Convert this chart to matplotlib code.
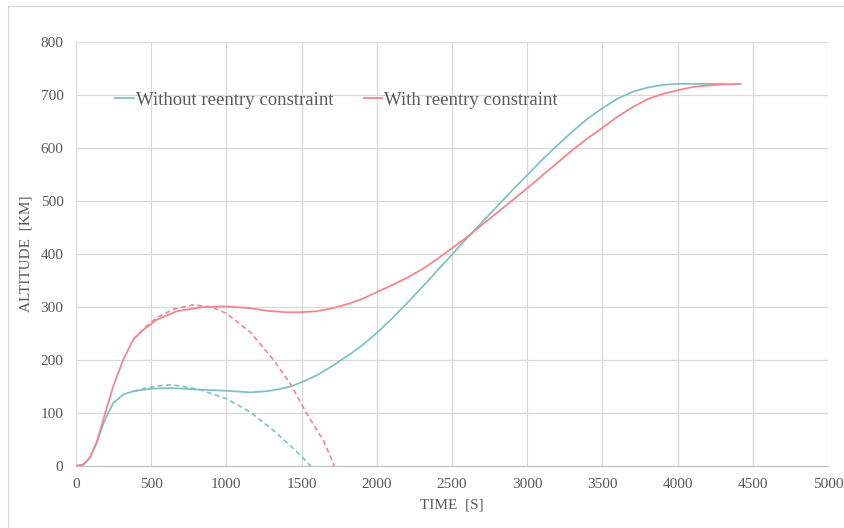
import matplotlib.pyplot as plt
from matplotlib.patches import Rectangle

# DATA

# without reentry constraint, solid
t_without = [0, 50, 93, 137, 182, 204, 248, 315, 381, 450, 514, 625, 700, 824, 1000, 1157,
             1268, 1350, 1423, 1500, 1600, 1700, 1822, 1900, 2000, 2100, 2200, 2300, 2400,
             2500, 2600, 2700, 2800, 2900, 3000, 3100, 3200, 3300, 3400, 3500, 3600, 3700,
             3800, 3900, 4000, 4100, 4200, 4315]
alt_without = [0, 3, 16, 44, 80, 94, 119, 135, 141, 144, 146, 147, 146, 144, 142, 139,
               141, 145, 150, 158, 171, 188, 211, 227, 251, 278, 307, 337, 368,
               399, 430, 460, 490, 520, 549, 578, 605, 631, 655, 675, 693, 706,
               714, 719, 721, 721, 721, 721]

# with reentry constraint, solid
t_with = [0, 50, 93, 137, 182, 248, 315, 381, 448, 537, 670, 847, 1000, 1150, 1268, 1400,
          1490, 1600, 1711, 1822, 1900, 2000, 2100, 2200, 2300, 2400, 2500, 2600, 2700,
          2800, 2900, 3000, 3100, 3200, 3300, 3400, 3500, 3600, 3700, 3800, 3900, 4000,
          4100, 4200, 4300, 4420]
alt_with = [0, 3, 16, 44, 88, 151, 201, 239, 257, 276, 292, 300, 301, 298, 293, 290,
            290, 292, 298, 307, 315, 328, 341, 355, 371, 390, 411, 432, 455,
            478, 501, 524, 548, 572, 596, 618, 638, 659, 677, 692, 702, 709,
            715, 718, 720, 721]

# ballistic fall after the coast, dashed
t_fall_without = [381, 450, 540, 625, 700, 824, 1000, 1157, 1314, 1445, 1500, 1560]
alt_fall_without = [141, 146, 151, 153, 151, 144, 127, 102, 67, 33, 18, 0]

t_fall_with = [381, 448, 537, 650, 780, 900, 1000, 1157, 1314, 1423, 1534, 1645, 1711, 1716]
alt_fall_with = [239, 259, 280, 296, 304, 300, 288, 253, 200, 156, 99, 48, 5, 0]

x_ticks = [0, 500, 1000, 1500, 2000, 2500, 3000, 3500, 4000, 4500, 5000]
y_ticks = [0, 100, 200, 300, 400, 500, 600, 700, 800]

TEAL = "#7fc3c1"
RED = "#f2878d"
GREY = "#595959"

# PLOT

plt.rcParams["font.family"] = ["Liberation Serif", "DejaVu Serif"]

fig = plt.figure(figsize=(8.45, 5.28), dpi=100)
ax = fig.add_axes([76 / 845, 62 / 528, 752 / 845, 424 / 528])

# chart area border
fig.patches.append(Rectangle((8.5 / 845, -0.1), 1.2, (528 - 5.5) / 528 + 0.1,
                             transform=fig.transFigure, fill=False,
                             edgecolor="#d9d9d9", linewidth=1.0))

ax.plot(t_without, alt_without, color=TEAL, lw=1.3, label="Without reentry constraint")
ax.plot(t_with, alt_with, color=RED, lw=1.3, label="With reentry constraint")
ax.plot(t_fall_without, alt_fall_without, color=TEAL, lw=1.2, linestyle=(0, (3, 2)))
ax.plot(t_fall_with, alt_fall_with, color=RED, lw=1.2, linestyle=(0, (3, 2)))

ax.set_xlim(0, 5000)
ax.set_ylim(0, 800)
ax.set_xticks(x_ticks)
ax.set_yticks(y_ticks)
ax.grid(True, color="#d9d9d9", linewidth=0.9)
ax.set_axisbelow(True)
ax.tick_params(length=0, labelsize=11, labelcolor=GREY, pad=9)
for side in ["top", "right", "left"]:
    ax.spines[side].set_visible(False)
ax.spines["bottom"].set_color("#bfbfbf")

ax.set_xlabel("TIME  [S]", fontsize=11, color=GREY, labelpad=5)
ax.set_ylabel("ALTITUDE  [KM]", fontsize=11, color=GREY, labelpad=6)

ax.legend(loc="upper left", bbox_to_anchor=(0.03, 0.923), ncol=2, frameon=False,
          fontsize=13.5, handlelength=1.0, handletextpad=0.1, columnspacing=1.6,
          labelcolor=GREY)

fig.savefig("out.png", dpi=100)
